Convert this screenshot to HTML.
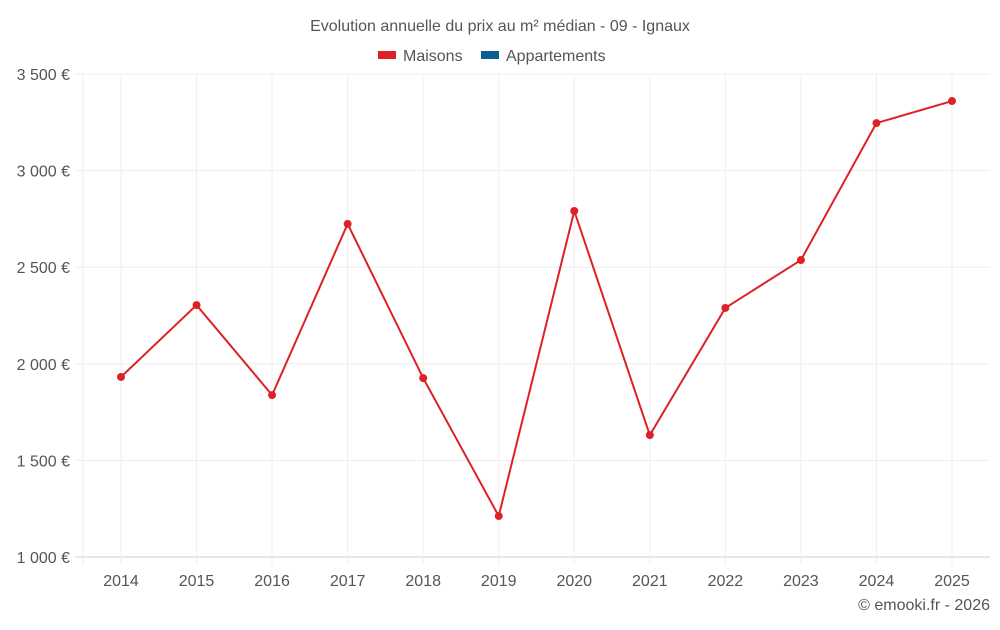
<!DOCTYPE html>
<html><head><meta charset="utf-8"><style>
body{margin:0;background:#fff;font-family:"Liberation Sans",sans-serif;}
svg text{font-family:"Liberation Sans",sans-serif;}
</style></head><body>
<svg id="c" width="1000" height="625">
<text x="500" y="31" text-anchor="middle" font-size="16" fill="#555">Evolution annuelle du prix au m² médian - 09 - Ignaux</text>
<g><rect x="378" y="51" width="18" height="8" fill="#dc2226"/><text x="403" y="61" font-size="16" fill="#555">Maisons</text></g>
<g><rect x="481" y="51" width="18" height="8" fill="#0b5e91"/><text x="506" y="61" font-size="16" fill="#555">Appartements</text></g>
<g id="grid"></g><g id="axes"></g><g id="series"></g>
<text x="990" y="610" text-anchor="end" font-size="16" fill="#555">© emooki.fr - 2026</text>
</svg>
<script>
const categories=[2014,2015,2016,2017,2018,2019,2020,2021,2022,2023,2024,2025];
const maisons=[1932,2304,1838,2724,1926,1212,2791,1631,2289,2537,3246,3360];
const yTicks=[1000,1500,2000,2500,3000,3500];
const yLabels=["1 000 €","1 500 €","2 000 €","2 500 €","3 000 €","3 500 €"];
const NS="http://www.w3.org/2000/svg";
const L=83,R=990,T=74,B=557;
function x(i){return 121+i*(952-121)/(categories.length-1);}
function y(v){return B-(v-1000)/(3500-1000)*(B-T);}
function mk(t,a,p){const e=document.createElementNS(NS,t);for(const k in a)e.setAttribute(k,a[k]);p.appendChild(e);return e;}
const g=document.getElementById('grid'),ax=document.getElementById('axes'),s=document.getElementById('series');
yTicks.forEach((v,i)=>{
 const l=mk('line',{x1:75,x2:R,y1:y(v),y2:y(v),stroke:i==0?'#ccc':'#eee'},g);
 
 
 const t=mk('text',{x:70,y:y(v)+6,'text-anchor':'end','font-size':16,fill:'#555'},ax);
 t.textContent=yLabels[i];
 
 
});
mk('line',{x1:L,x2:L,y1:T,y2:B+8,stroke:'#eee'},g);
categories.forEach((c,i)=>{
 const gl=mk('line',{x1:x(i),x2:x(i),y1:T,y2:B+8,stroke:'#eee'},g);
 
 
 const t=mk('text',{x:x(i),y:586,'text-anchor':'middle','font-size':16,fill:'#555'},ax);
 t.textContent=c;
 
 
});
const p=mk('polyline',{points:maisons.map((v,i)=>x(i)+','+y(v)).join(' '),fill:'none',stroke:'#dc2226','stroke-width':2},s);


maisons.forEach((v,i)=>{
 const c=mk('circle',{cx:x(i),cy:y(v),r:4,fill:'#dc2226'},s);
 
 
});
</script>
</body></html>
